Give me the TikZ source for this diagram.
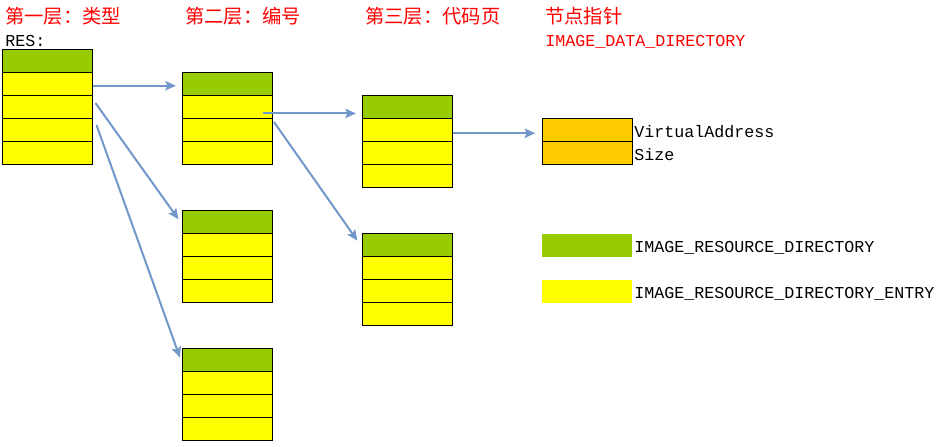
\documentclass[tikz,border=0pt]{standalone}
\usepackage{fontspec}
\setmonofont{Liberation Mono}
\newfontfamily\cjk{Noto Sans CJK SC}
\usetikzlibrary{arrows.meta,calc}
\definecolor{dirgreen}{RGB}{153,204,0}
\definecolor{entyellow}{RGB}{255,255,0}
\definecolor{ptrorange}{RGB}{255,204,0}
\definecolor{arrblue}{RGB}{113,152,200}
\definecolor{titlered}{RGB}{255,0,0}
\tikzset{
  cell/.style={draw=black, line width=1.1pt, minimum width=67.5pt, minimum height=17.25pt, inner sep=0pt, anchor=north west},
  grn/.style={cell, fill=dirgreen},
  yel/.style={cell, fill=entyellow},
  org/.style={cell, fill=ptrorange},
  swatch/.style={minimum width=67.5pt, minimum height=17.5pt, inner sep=0pt, anchor=north west},
  arr/.style={draw=arrblue, line width=1.5pt, -{Stealth[length=8pt,width=7pt,inset=1.5pt]}},
  title/.style={font=\cjk\fontsize{14.5}{16}\selectfont, text=titlered, anchor=base west, inner sep=0pt},
  mono/.style={font=\ttfamily\fontsize{12.5}{14}\selectfont, anchor=base west, inner sep=0pt},
}
\begin{document}
\begin{tikzpicture}[x=0.75pt,y=-0.75pt]
\useasboundingbox (0,0) rectangle (937,446);
% stacks
\foreach \n/\x/\y/\k in {a/2/49/4, b/182/72/3, c/182/210/3, e/182/348/3, d/362/95/3, f/362/233/3} {
  \node[grn] (\n0) at (\x,\y) {};
  \foreach \i in {1,...,\k} \node[yel] (\n\i) at (\x,{\y+23*\i}) {};
}
% data directory
\node[org] (o1) at (542,118) {};
\node[org] (o2) at (542,141) {};
% legend
\node[swatch, fill=dirgreen] (lg) at (542,233.5) {};
\node[swatch, fill=entyellow] (ly) at (542,279.5) {};
% texts
\node[title] (t1) at (5,23) {第一层：类型};
\node[title] (t2) at (185,23) {第二层：编号};
\node[title] (t3) at (365,23) {第三层：代码页};
\node[title] (t4) at (545,23) {节点指针};
\node[mono] (res) at (5,46) {RES:};
\node[mono, text=titlered] (idd) at (545,46) {IMAGE\_DATA\_DIRECTORY};
\node[mono] (va) at (634,137) {VirtualAddress};
\node[mono] (sz) at (634,160.5) {Size};
\node[mono] (lgt) at (634,252.5) {IMAGE\_RESOURCE\_DIRECTORY};
\node[mono] (lyt) at (634,298.5) {IMAGE\_RESOURCE\_DIRECTORY\_ENTRY};
% connectors
\coordinate (s1) at ($(a1.east)+(0,1.5)$);
\coordinate (s2) at ($(a2.north east)+(2,8)$);
\coordinate (s3) at ($(a3.north east)+(3,7)$);
\coordinate (s4) at ($(b1.south east)+(-10,-6)$);
\coordinate (s5) at ($(b2.north east)+(0.5,4)$);
\draw[arr, shorten >=4.5pt] (s1) -- (s1 -| b0.west);
\draw[arr, shorten >=4.5pt] (s2) -- ($(c0.west)+(0,2)$);
\draw[arr, shorten >=4.5pt] (s3) -- ($(e0.west)+(0,3)$);
\draw[arr, shorten >=4.5pt] (s4) -- (s4 -| d0.west);
\draw[arr, shorten >=6pt] (s5) -- ($(f0.west)+(0,2)$);
\draw[arr, shorten >=5pt] ($(d1.east)+(0,3)$) -- ($(o1.west)+(0,3)$);
\end{tikzpicture}
\end{document}
